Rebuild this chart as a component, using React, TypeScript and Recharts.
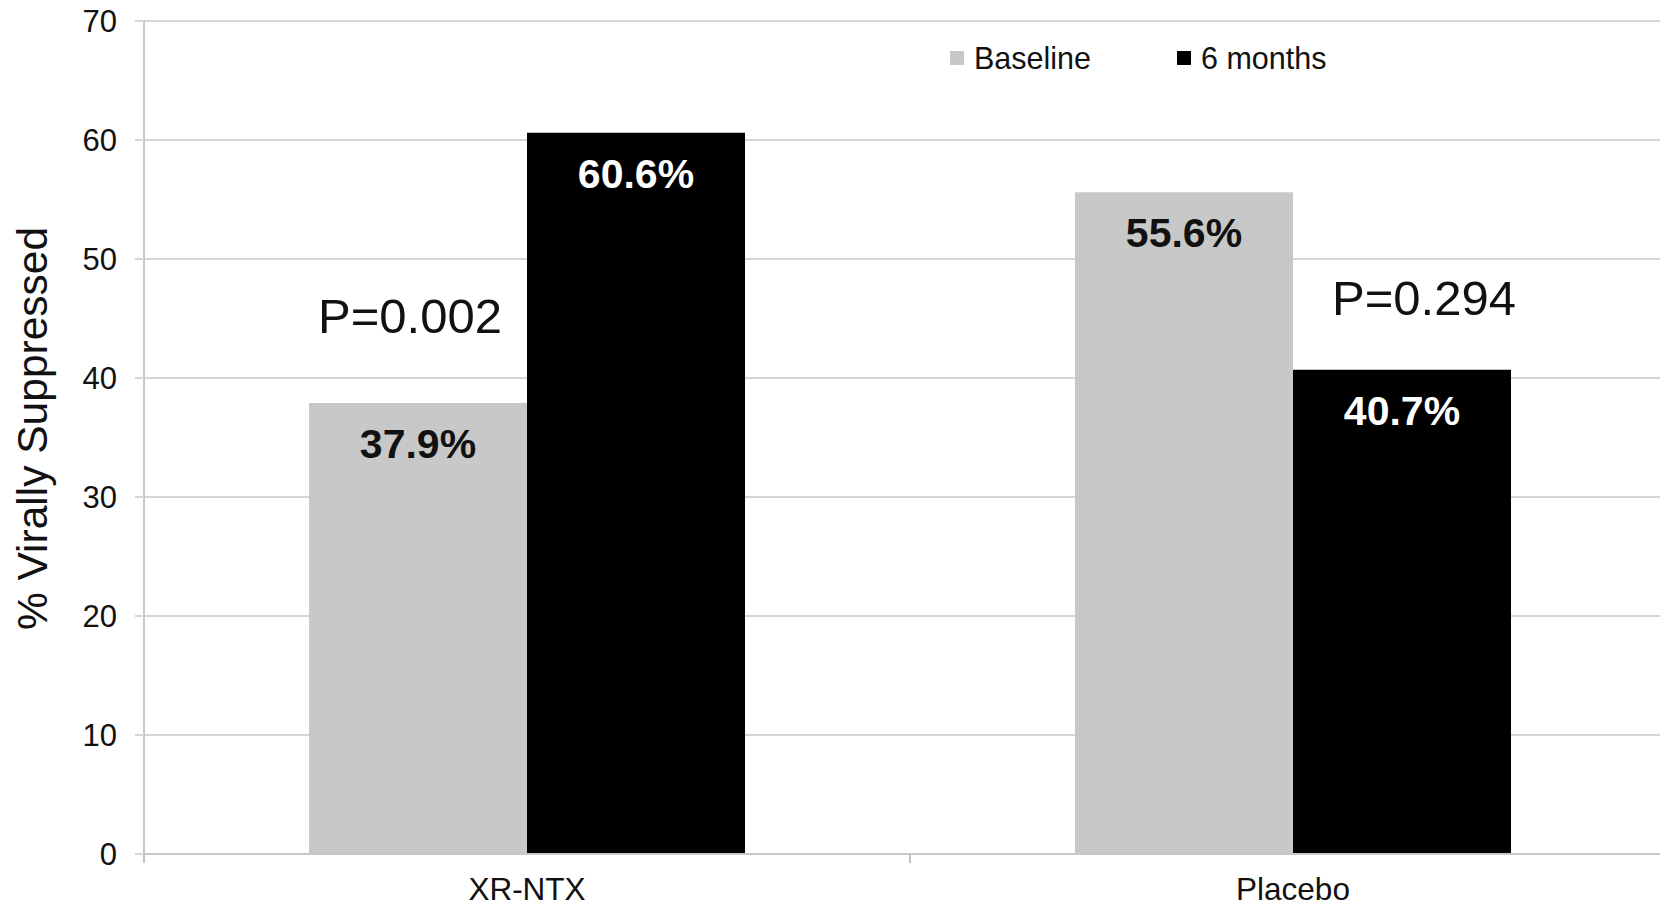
import {
  BarChart,
  Bar,
  XAxis,
  YAxis,
  CartesianGrid,
  Legend,
  LabelList,
  ReferenceDot,
} from 'recharts';

const categories = ['XR-NTX', 'Placebo'];
const baselineValues = [37.9, 55.6];
const sixMonthValues = [60.6, 40.7];
const pValues = ['P=0.002', 'P=0.294'];
const yTicks = [0, 10, 20, 30, 40, 50, 60, 70];
const seriesNames = ['Baseline', '6 months'];
const seriesColors = ['#c8c8c8', '#000'];

const FONT = '"Liberation Sans", Arial, Helvetica, sans-serif';
const GRID = '#d6d6d6';
const TEXT = '#111';

const data = categories.map((group, i) => ({
  group,
  baseline: baselineValues[i],
  months6: sixMonthValues[i],
}));

// where the p-value notes sit (value level + horizontal shift from category centre)
const pPlacement = [
  { level: 43.8, shift: -117 },
  { level: 45.3, shift: 131 },
];

function barLabel(color: string) {
  return (props: any) => {
    const { x, y, width, value } = props;
    return (
      <text
        x={Number(x) + Number(width) / 2}
        y={Number(y) + 55}
        textAnchor="middle"
        fill={color}
        fontSize={41}
        fontWeight="bold"
        fontFamily={FONT}
      >
        {`${value}%`}
      </text>
    );
  };
}

// category label + Excel-style tick marks at the band edges
function CategoryTick(props: any) {
  const { x, y, width, visibleTicksCount, payload } = props;
  const band = Number(width) / (visibleTicksCount || 2);
  const half = band / 2;
  return (
    <g>
      <line x1={x - half} x2={x - half} y1={y} y2={y + 9} stroke="#c4c4c4" strokeWidth={2} />
      <line x1={x + half} x2={x + half} y1={y} y2={y + 9} stroke="#c4c4c4" strokeWidth={2} />
      <text x={x} y={y + 46} textAnchor="middle" fill={TEXT} fontSize={31.5} fontFamily={FONT}>
        {payload.value}
      </text>
    </g>
  );
}

function LegendBox() {
  return (
    <div style={{ display: 'flex', alignItems: 'center', fontFamily: FONT, fontSize: 30.5, color: TEXT, lineHeight: '34px' }}>
      {seriesNames.map((name, i) => (
        <div key={name} style={{ display: 'flex', alignItems: 'center', marginRight: i === 0 ? 86 : 0 }}>
          <span style={{ width: 14, height: 14, background: seriesColors[i], marginRight: 10, display: 'inline-block' }} />
          <span>{name}</span>
        </div>
      ))}
    </div>
  );
}

export default function App() {
  return (
    <div style={{ position: 'fixed', left: 0, top: 0, width: 1660, height: 906, overflow: 'hidden', background: '#fff', fontFamily: FONT }}>
      <BarChart
        width={1700}
        height={906}
        data={data}
        margin={{ top: 21, right: 24, left: 0, bottom: 0 }}
        barCategoryGap={165}
        barGap={0}
      >
        <CartesianGrid vertical={false} stroke={GRID} strokeWidth={2} />
        <XAxis
          dataKey="group"
          height={52}
          interval={0}
          axisLine={{ stroke: '#c8c8c8', strokeWidth: 2 }}
          tickLine={false}
          tickSize={0}
          tickMargin={0}
          tick={<CategoryTick />}
        />
        <YAxis
          width={144}
          domain={[0, 70]}
          ticks={yTicks}
          interval={0}
          axisLine={{ stroke: '#c8c8c8', strokeWidth: 2 }}
          tickLine={{ stroke: GRID, strokeWidth: 2 }}
          tickSize={9}
          tickMargin={18}
          tick={{ fill: TEXT, fontSize: 31, fontFamily: FONT }}
          label={(props: any) => {
            const vb = props.viewBox || { y: 21, height: 833 };
            const cy = vb.y + vb.height / 2 - 9;
            return (
              <text
                transform={`translate(47, ${cy}) rotate(-90)`}
                textAnchor="middle"
                fill={TEXT}
                fontSize={42.5}
                fontFamily={FONT}
              >
                % Virally Suppressed
              </text>
            );
          }}
        />
        <Legend
          verticalAlign="middle"
          align="center"
          layout="horizontal"
          wrapperStyle={{ top: 41, left: 950, width: 'auto' }}
          content={() => <LegendBox />}
        />
        <Bar dataKey="baseline" name={seriesNames[0]} fill={seriesColors[0]} isAnimationActive={false}>
          <LabelList dataKey="baseline" content={barLabel('#111')} />
        </Bar>
        <Bar dataKey="months6" name={seriesNames[1]} fill={seriesColors[1]} isAnimationActive={false}>
          <LabelList dataKey="months6" content={barLabel('#fff')} />
        </Bar>
        {categories.map((c, i) => (
          <ReferenceDot
            key={c}
            x={c}
            y={pPlacement[i].level}
            r={1}
            fill="none"
            stroke="none"
            label={(props: any) => {
              const vb = props.viewBox;
              const cx = vb.x + vb.width / 2 + pPlacement[i].shift;
              const cy = vb.y + vb.height / 2;
              return (
                <text x={cx} y={cy} textAnchor="middle" fill={TEXT} fontSize={49} fontFamily={FONT}>
                  {pValues[i]}
                </text>
              );
            }}
          />
        ))}
      </BarChart>
    </div>
  );
}
